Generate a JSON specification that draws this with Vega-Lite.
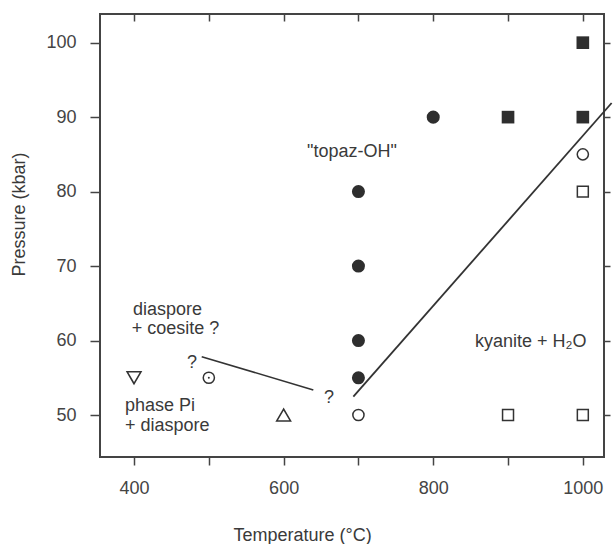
{
  "$schema": "https://vega.github.io/schema/vega-lite/v6.json",
  "width": 504,
  "height": 443,
  "autosize": {"type": "none"},
  "padding": {"left": 100, "top": 14, "right": 9, "bottom": 87},
  "datasets": {
    "points": [
      {"T": 800, "P": 90, "marker": "fc"},
      {"T": 700, "P": 80, "marker": "fc"},
      {"T": 700, "P": 70, "marker": "fc"},
      {"T": 700, "P": 60, "marker": "fc"},
      {"T": 700, "P": 55, "marker": "fc"},
      {"T": 1000, "P": 100, "marker": "fs"},
      {"T": 900, "P": 90, "marker": "fs"},
      {"T": 1000, "P": 90, "marker": "fs"},
      {"T": 1000, "P": 85, "marker": "oc"},
      {"T": 700, "P": 50, "marker": "oc"},
      {"T": 500, "P": 55, "marker": "ocd"},
      {"T": 1000, "P": 80, "marker": "os"},
      {"T": 900, "P": 50, "marker": "os"},
      {"T": 1000, "P": 50, "marker": "os"},
      {"T": 600, "P": 50, "marker": "tu"},
      {"T": 400, "P": 55, "marker": "td"}
    ],
    "boundary": [{"T": 693.2, "P": 52.46}, {"T": 1038.5, "P": 91.9}],
    "uncertain": [{"T": 490.5, "P": 57.83}, {"T": 639.7, "P": 53.36}],
    "labels": [
      {"text": "diaspore", "T": 398.7, "P": 63.43},
      {"text": "+ coesite ?", "T": 397, "P": 60.88},
      {"text": "phase Pi", "T": 388, "P": 50.54},
      {"text": "+ diaspore", "T": 388, "P": 47.89},
      {"text": "?", "T": 470.8, "P": 56.31},
      {"text": "?", "T": 654, "P": 51.57},
      {"text": "kyanite + H₂O", "T": 855.9, "P": 59.17},
      {"text": "\"topaz-OH\"", "T": 631.3, "P": 84.61}
    ]
  },
  "layer": [
    {
      "data": {"name": "boundary"},
      "mark": {"type": "line", "color": "#333333", "strokeWidth": 1.8},
      "encoding": {
        "x": {"field": "T", "type": "quantitative", "scale": {"domain": [354.5, 1028.3], "nice": false, "zero": false},
              "axis": {"orient": "top", "values": [400, 500, 600, 700, 800, 900, 1000], "labels": false, "offset": -7, "tickSize": 7, "title": null}},
        "y": {"field": "P", "type": "quantitative", "scale": {"domain": [44.36, 103.85], "nice": false, "zero": false},
              "axis": {"orient": "right", "values": [50, 60, 70, 80, 90, 100], "labels": false, "tickSize": 6, "title": null}}
      }
    },
    {
      "data": {"name": "uncertain"},
      "mark": {"type": "line", "color": "#333333", "strokeWidth": 1.6},
      "encoding": {
        "x": {"field": "T", "type": "quantitative", "scale": {"domain": [354.5, 1028.3], "nice": false, "zero": false}, "axis": null},
        "y": {"field": "P", "type": "quantitative", "scale": {"domain": [44.36, 103.85], "nice": false, "zero": false}, "axis": null}
      }
    },
    {
      "data": {"name": "points"},
      "transform": [{"filter": "datum.marker == 'fc'"}],
      "mark": {"type": "point", "shape": "circle", "filled": true, "size": 170, "color": "#2e2e2e", "opacity": 1},
      "encoding": {
        "x": {"field": "T", "type": "quantitative", "scale": {"domain": [354.5, 1028.3], "nice": false, "zero": false},
              "axis": {"orient": "bottom", "values": [400, 500, 600, 700, 800, 900, 1000], "format": "d", "labelExpr": "datum.value % 200 == 0 ? datum.label : ''", "tickSize": 8, "labelPadding": 14, "title": "Temperature (°C)", "titleX": 202, "titleY": 83, "titleBaseline": "alphabetic", "titleAlign": "center"}},
        "y": {"field": "P", "type": "quantitative", "scale": {"domain": [44.36, 103.85], "nice": false, "zero": false},
              "axis": {"orient": "left", "values": [50, 60, 70, 80, 90, 100], "tickSize": 10, "labelPadding": 14, "title": "Pressure (kbar)", "titleX": -81, "titleY": 200, "titleAngle": -90, "titleBaseline": "middle", "titleAlign": "center"}}
      }
    },
    {
      "data": {"name": "points"},
      "transform": [{"filter": "datum.marker == 'fs'"}],
      "mark": {"type": "point", "shape": "square", "filled": true, "size": 160, "color": "#2e2e2e", "opacity": 1},
      "encoding": {
        "x": {"field": "T", "type": "quantitative", "scale": {"domain": [354.5, 1028.3], "nice": false, "zero": false}, "axis": null},
        "y": {"field": "P", "type": "quantitative", "scale": {"domain": [44.36, 103.85], "nice": false, "zero": false}, "axis": null}
      }
    },
    {
      "data": {"name": "points"},
      "transform": [{"filter": "datum.marker == 'oc' || datum.marker == 'ocd'"}],
      "mark": {"type": "point", "shape": "circle", "filled": false, "size": 125, "stroke": "#333333", "strokeWidth": 1.5, "opacity": 1},
      "encoding": {
        "x": {"field": "T", "type": "quantitative", "scale": {"domain": [354.5, 1028.3], "nice": false, "zero": false}, "axis": null},
        "y": {"field": "P", "type": "quantitative", "scale": {"domain": [44.36, 103.85], "nice": false, "zero": false}, "axis": null}
      }
    },
    {
      "data": {"name": "points"},
      "transform": [{"filter": "datum.marker == 'ocd'"}],
      "mark": {"type": "point", "shape": "circle", "filled": true, "size": 4, "color": "#333333", "opacity": 1},
      "encoding": {
        "x": {"field": "T", "type": "quantitative", "scale": {"domain": [354.5, 1028.3], "nice": false, "zero": false}, "axis": null},
        "y": {"field": "P", "type": "quantitative", "scale": {"domain": [44.36, 103.85], "nice": false, "zero": false}, "axis": null}
      }
    },
    {
      "data": {"name": "points"},
      "transform": [{"filter": "datum.marker == 'os'"}],
      "mark": {"type": "point", "shape": "square", "filled": false, "size": 120, "stroke": "#333333", "strokeWidth": 1.5, "opacity": 1},
      "encoding": {
        "x": {"field": "T", "type": "quantitative", "scale": {"domain": [354.5, 1028.3], "nice": false, "zero": false}, "axis": null},
        "y": {"field": "P", "type": "quantitative", "scale": {"domain": [44.36, 103.85], "nice": false, "zero": false}, "axis": null}
      }
    },
    {
      "data": {"name": "points"},
      "transform": [{"filter": "datum.marker == 'tu' || datum.marker == 'td'"}],
      "mark": {"type": "point", "filled": false, "size": 190, "stroke": "#333333", "strokeWidth": 1.6, "opacity": 1},
      "encoding": {
        "x": {"field": "T", "type": "quantitative", "scale": {"domain": [354.5, 1028.3], "nice": false, "zero": false}, "axis": null},
        "y": {"field": "P", "type": "quantitative", "scale": {"domain": [44.36, 103.85], "nice": false, "zero": false}, "axis": null},
        "shape": {"field": "marker", "type": "nominal", "scale": {"domain": ["tu", "td"], "range": ["triangle-up", "triangle-down"]}, "legend": null}
      }
    },
    {
      "data": {"name": "labels"},
      "mark": {"type": "text", "align": "left", "baseline": "alphabetic", "font": "Liberation Sans", "fontSize": 18, "color": "#3a3a3a"},
      "encoding": {
        "x": {"field": "T", "type": "quantitative", "scale": {"domain": [354.5, 1028.3], "nice": false, "zero": false}, "axis": null},
        "y": {"field": "P", "type": "quantitative", "scale": {"domain": [44.36, 103.85], "nice": false, "zero": false}, "axis": null},
        "text": {"field": "text", "type": "nominal"}
      }
    }
  ],
  "resolve": {"axis": {"x": "independent", "y": "independent"}},
  "config": {
    "background": "white",
    "view": {"stroke": "#444444", "strokeWidth": 2},
    "axis": {
      "domain": false,
      "grid": false,
      "tickColor": "#444444",
      "tickWidth": 1.5,
      "labelFont": "Liberation Sans",
      "labelFontSize": 18,
      "labelColor": "#444444",
      "titleFont": "Liberation Sans",
      "titleFontSize": 18,
      "titleFontWeight": "normal",
      "titleColor": "#3a3a3a"
    }
  }
}
